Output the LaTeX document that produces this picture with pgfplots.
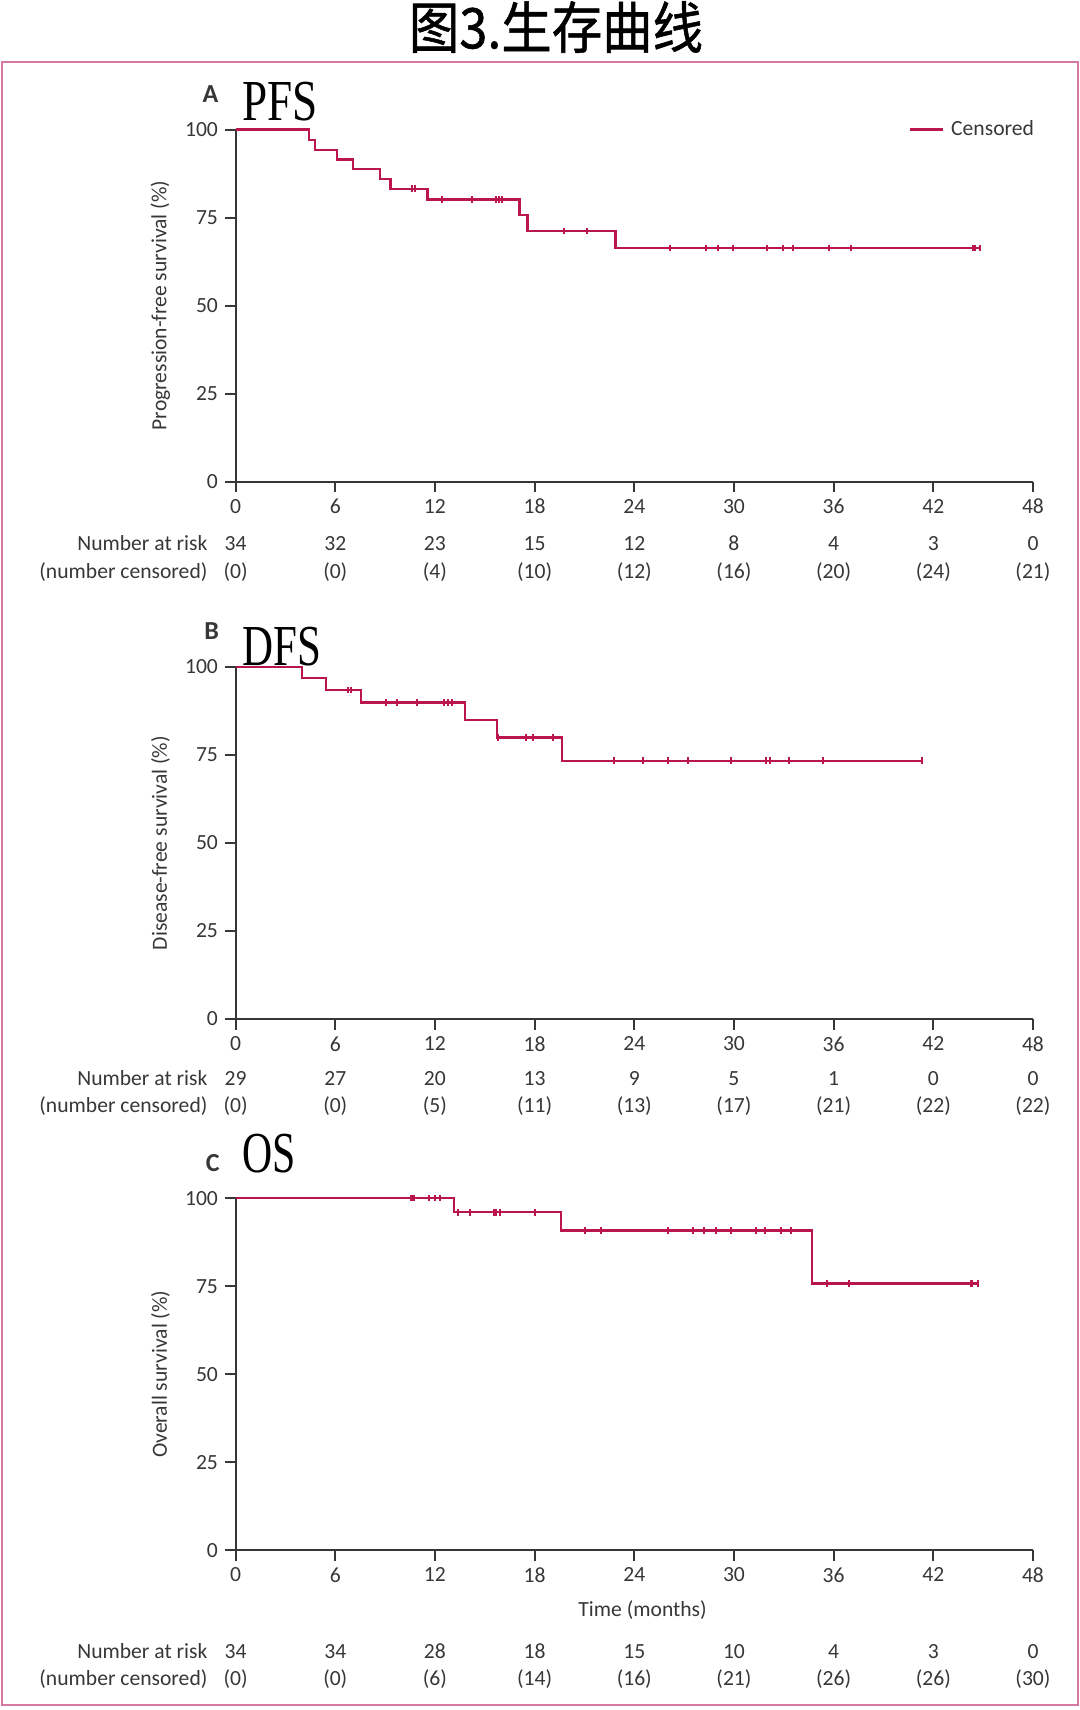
\documentclass[border=0pt]{standalone}
\usepackage{fontspec}
\setmainfont{Carlito}
\newfontfamily\cjk[FakeBold=1]{Noto Sans CJK SC}
\newfontfamily\capfont{Liberation Serif}
\usepackage{graphicx}
\usepackage{pgfplots}
\pgfplotsset{compat=1.18}

\definecolor{km}{RGB}{186,22,76}
\definecolor{framepink}{RGB}{215,120,160}
\definecolor{ax}{RGB}{55,55,55}

\newcommand\lab{\fontsize{10.8}{13}\selectfont}
\tikzset{risk/.style={anchor=base, font=\lab, text=ax, inner sep=0pt}}

\pgfplotsset{
  km axis/.style={
    scale only axis, width=398.7pt, height=176pt,
    xmin=0, xmax=48, ymin=0, ymax=100,
    axis lines=left,
    axis line style={ax, line width=1pt, -},
    xtick={0,6,...,48}, ytick={0,25,50,75,100},
    tick align=outside, major tick length=5.3pt,
    every tick/.style={ax, line width=1pt},
    tick label style={font=\lab, text=ax},
    /pgf/number format/assume math mode=true,
    clip=false,
    ylabel style={font=\lab, text=ax, at={(axis description cs:-0.0943,0.5)}, anchor=center},
  },
  km line/.style={km, line width=1.1pt, const plot, mark=none},
  km cens/.style={km, line width=1pt, only marks, mark=|, mark size=1.6pt},
}

% #1 baseline of the at-risk row, #2 of the censored row, #3 x/at risk, #4 x/censored
\newcommand\risktable[4]{%
  \node[risk, anchor=base east, xshift=-13.9pt, yshift=#1] at (axis cs:0,0) {Number at risk};
  \node[risk, anchor=base east, xshift=-13.9pt, yshift=#2] at (axis cs:0,0) {(number censored)};
  \foreach \x/\v in {#3} {\edef\tmp{\noexpand\node[risk, yshift=#1] at (axis cs:\x,0) {\v};}\tmp}
  \foreach \x/\v in {#4} {\edef\tmp{\noexpand\node[risk, yshift=#2] at (axis cs:\x,0) {(\v)};}\tmp}
}

\begin{document}
\begin{tikzpicture}
\path[use as bounding box] (0,0) rectangle (540pt,-855pt);
\node[font=\cjk\fontsize{28}{30}\selectfont] at (278pt,-13.5pt) {\scalebox{0.9}[1]{图3.生存曲线}};
\draw[framepink, line width=0.8pt] (1.1pt,-31.1pt) rectangle (539pt,-852.5pt);

% A: PFS
\begin{axis}[km axis, at={(117.8pt,-240.75pt)}, anchor=south west,
  ylabel={Progression-free survival (\%)},
  legend style={draw=none, fill=none, at={(1,1)}, anchor=east, xshift=2.7pt,
    font=\lab, text=ax, inner sep=0pt},
  legend image code/.code={\draw[#1] (0pt,0pt) -- (16.4pt,0pt); \path (18pt,0pt);},
]
\addplot[km line] coordinates {
  (0,100) (4.44,97.1) (4.78,94.2) (6.08,91.5) (7.07,88.8) (8.69,86.0) (9.32,83.2)
  (11.55,80.1) (17.09,75.7) (17.57,71.2) (22.87,66.3) (44.82,66.3)};
\addlegendentry{Censored}
\addplot[km cens, forget plot] coordinates {
  (10.64,83.2) (10.80,83.2) (12.45,80.1) (14.22,80.1) (15.66,80.1) (15.86,80.1) (16.02,80.1)
  (19.74,71.2) (21.14,71.2) (26.15,66.3) (28.32,66.3) (29.06,66.3) (29.93,66.3) (32.01,66.3)
  (32.96,66.3) (33.58,66.3) (35.72,66.3) (37.07,66.3) (44.41,66.3) (44.53,66.3) (44.82,66.3)};
\risktable{-34.5pt}{-48.3pt}{0/34,6/32,12/23,18/15,24/12,30/8,36/4,42/3,48/0}{0/0,6/0,12/4,18/10,24/12,30/16,36/20,42/24,48/21}
\end{axis}
\node[font=\bfseries\fontsize{13}{15}\selectfont, text=ax] at (105.3pt,-46.9pt) {A};
\node[font=\capfont\fontsize{29}{31}\selectfont, anchor=west, inner sep=0pt] at (121pt,-50.7pt) {\scalebox{0.78}[1]{PFS}};

% B: DFS
\begin{axis}[km axis, at={(117.8pt,-509.5pt)}, anchor=south west,
  ylabel={Disease-free survival (\%)},
]
\addplot[km line] coordinates {
  (0,100) (4.02,96.9) (5.44,93.5) (7.57,89.9) (13.80,85.0) (15.74,80.0) (19.64,73.4) (41.32,73.4)};
\addplot[km cens] coordinates {
  (6.75,93.5) (6.93,93.5) (9.04,89.9) (9.74,89.9) (10.90,89.9) (12.55,89.9) (12.77,89.9) (13.01,89.9)
  (15.78,80.0) (17.47,80.0) (17.93,80.0) (19.10,80.0) (22.80,73.4) (24.50,73.4) (26.05,73.4)
  (27.24,73.4) (29.84,73.4) (31.91,73.4) (32.17,73.4) (33.30,73.4) (35.38,73.4) (41.32,73.4)};
\risktable{-33.1pt}{-46.7pt}{0/29,6/27,12/20,18/13,24/9,30/5,36/1,42/0,48/0}{0/0,6/0,12/5,18/11,24/13,30/17,36/21,42/22,48/22}
\end{axis}
\node[font=\bfseries\fontsize{13}{15}\selectfont, text=ax] at (105.8pt,-315.3pt) {B};
\node[font=\capfont\fontsize{29}{31}\selectfont, anchor=west, inner sep=0pt] at (121pt,-323.4pt) {\scalebox{0.74}[1]{DFS}};

% C: OS
\begin{axis}[km axis, at={(117.8pt,-775.1pt)}, anchor=south west,
  ylabel={Overall survival (\%)},
]
\addplot[km line] coordinates {
  (0,100) (13.17,96.0) (19.60,90.85) (34.72,75.8) (44.68,75.8)};
\addplot[km cens] coordinates {
  (10.58,100) (10.66,100) (10.76,100) (11.67,100) (12.01,100) (12.33,100)
  (13.41,96.0) (14.14,96.0) (15.56,96.0) (15.68,96.0) (15.94,96.0) (18.01,96.0)
  (21.06,90.85) (22.00,90.85) (26.05,90.85) (27.54,90.85) (28.20,90.85) (28.92,90.85) (29.81,90.85)
  (31.33,90.85) (31.85,90.85) (32.84,90.85) (33.44,90.85)
  (35.60,75.8) (36.93,75.8) (44.26,75.8) (44.34,75.8) (44.68,75.8)};
\node[risk, yshift=-32.9pt] at (axis cs:24.5,0) {Time (months)};
\risktable{-53.9pt}{-67.5pt}{0/34,6/34,12/28,18/18,24/15,30/10,36/4,42/3,48/0}{0/0,6/0,12/6,18/14,24/16,30/21,36/26,42/26,48/30}
\end{axis}
\node[font=\bfseries\fontsize{13}{15}\selectfont, text=ax] at (106.4pt,-581.5pt) {C};
\node[font=\capfont\fontsize{29}{31}\selectfont, anchor=west, inner sep=0pt] at (121pt,-576.8pt) {\scalebox{0.72}[1]{OS}};
\end{tikzpicture}
\end{document}
